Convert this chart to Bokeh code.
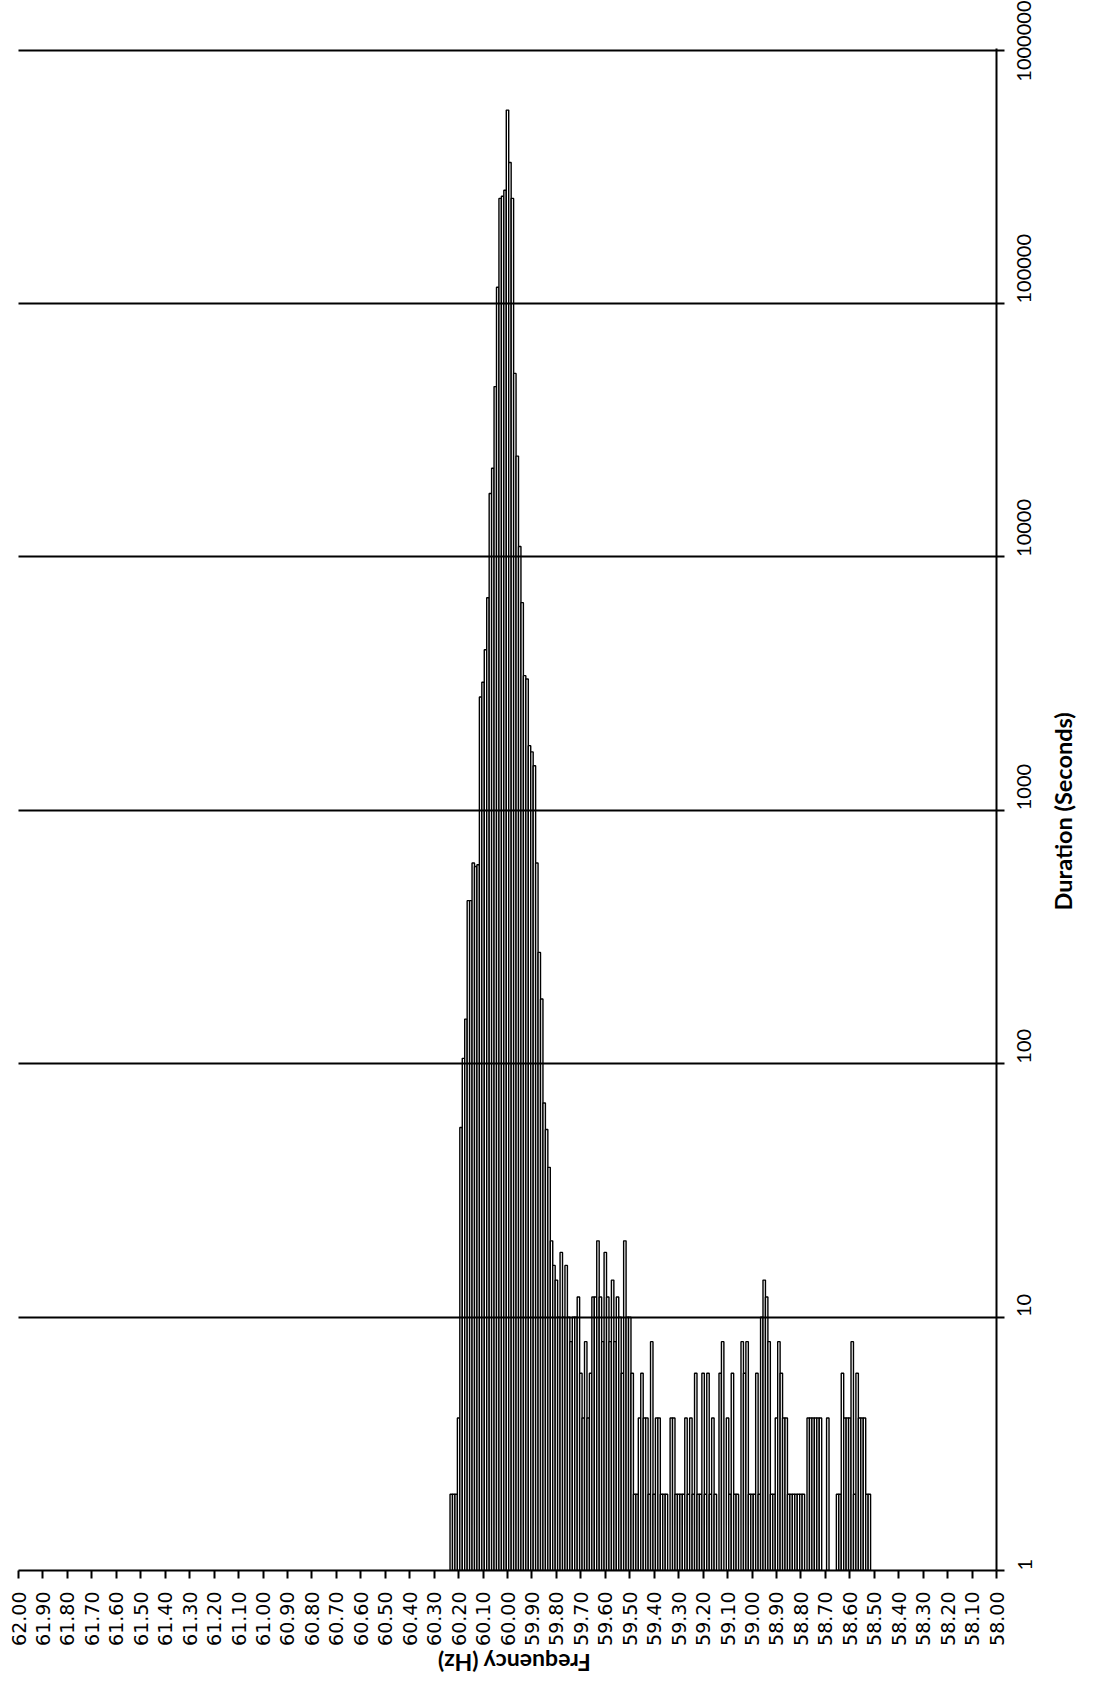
import math
from bokeh.plotting import figure
from bokeh.layouts import row, column
from bokeh.models import (Range1d, FixedTicker, CustomJSTickFormatter,
                          ColumnDataSource, PrintfTickFormatter)
from bokeh.core.properties import value
from bokeh.embed import file_html
from bokeh.resources import INLINE

# ---- data: duration (seconds) spent in each 0.01 Hz frequency bin ----
body_freq_hz = [
    60.23, 60.22, 60.21, 60.20, 60.19, 60.18, 60.17, 60.16, 60.15, 60.14,
    60.13, 60.12, 60.11, 60.10, 60.09, 60.08, 60.07, 60.06, 60.05, 60.04,
    60.03, 60.02, 60.01, 60.00, 59.99, 59.98, 59.97, 59.96, 59.95, 59.94,
    59.93, 59.92, 59.91, 59.90, 59.89, 59.88, 59.87, 59.86, 59.85, 59.84,
    59.83, 59.82, 59.81,
]
body_duration_s = [
    2, 2, 2, 4, 56, 105, 150, 440, 440, 620,
    600, 610, 2800, 3200, 4300, 6900, 17800, 22400, 47000, 116000,
    260000, 265000, 280000, 580000, 360000, 260000, 53000, 25000, 11000, 6600,
    3400, 3300, 1800, 1700, 1500, 620, 275, 180, 70, 55,
    39, 20, 16,
]
tail_freq_hz = [
    59.80, 59.79, 59.78, 59.77, 59.76, 59.75, 59.74, 59.73, 59.72, 59.71,
    59.70, 59.69, 59.68, 59.67, 59.66, 59.65, 59.64, 59.63, 59.62, 59.61,
    59.60, 59.59, 59.58, 59.57, 59.56, 59.55, 59.54, 59.53, 59.52, 59.51,
    59.50, 59.49, 59.48, 59.47, 59.46, 59.45, 59.44, 59.43, 59.42, 59.41,
    59.40, 59.39, 59.38, 59.37, 59.36, 59.35, 59.34, 59.33, 59.32, 59.31,
    59.30, 59.29, 59.28, 59.27, 59.26, 59.25, 59.24, 59.23, 59.22, 59.21,
    59.20, 59.19, 59.18, 59.17, 59.16, 59.15, 59.14, 59.13, 59.12, 59.11,
    59.10, 59.09, 59.08, 59.07, 59.06, 59.05, 59.04, 59.03, 59.02, 59.01,
    59.00, 58.99, 58.98, 58.97, 58.96, 58.95, 58.94, 58.93, 58.92, 58.91,
    58.90, 58.89, 58.88, 58.87, 58.86, 58.85, 58.84, 58.83, 58.82, 58.81,
    58.80, 58.79, 58.78, 58.77, 58.76, 58.75, 58.74, 58.73, 58.72, 58.71,
    58.70, 58.69, 58.68, 58.67, 58.66, 58.65, 58.64, 58.63, 58.62, 58.61,
    58.60, 58.59, 58.58, 58.57, 58.56, 58.55, 58.54, 58.53, 58.52,
]
tail_duration_s = [
    14, 10, 18, 10, 16, 10, 8, 10, 10, 12,
    6, 4, 8, 4, 6, 12, 12, 20, 12, 8,
    18, 12, 8, 14, 8, 12, 10, 6, 20, 10,
    10, 6, 2, 2, 4, 6, 4, 4, 2, 8,
    2, 4, 4, 2, 2, 2, 0, 4, 4, 2,
    2, 2, 2, 4, 2, 4, 2, 6, 2, 2,
    6, 2, 6, 2, 4, 2, 0, 6, 8, 0,
    4, 2, 6, 2, 2, 0, 8, 6, 8, 2,
    2, 2, 6, 2, 10, 14, 12, 8, 2, 2,
    4, 8, 6, 4, 4, 2, 2, 2, 2, 2,
    2, 2, 0, 4, 4, 4, 4, 4, 4, 0,
    0, 4, 0, 0, 0, 2, 2, 6, 4, 4,
    4, 8, 2, 6, 4, 4, 4, 2, 2,
]
freq_ticks = [round(62.0 - 0.1 * i, 2) for i in range(41)]
duration_ticks = [1, 10, 100, 1000, 10000, 100000, 1000000]
x_title = "Frequency (Hz)"
y_title = "Duration (Seconds)"
bin_width_hz = 0.01

# ---- layout (pixels) ----
MAIN_W, MAIN_H = 1048, 1648
BL, BR, BT, BB = 18, 52, 48, 76          # main figure borders
TITLE_H = 1676 - MAIN_H                  # strip below for the x title
TITLE_W = 1077 - MAIN_W                  # strip right for the y title
Y_MAX = 1015000

freqs = body_freq_hz + tail_freq_hz
durs = body_duration_s + tail_duration_s
keep = [(f, d) for f, d in zip(freqs, durs) if d > 0]
src = ColumnDataSource(dict(freq=[f for f, _ in keep], dur=[d for _, d in keep]))

p = figure(width=MAIN_W, height=MAIN_H,
           x_range=Range1d(62.0, 58.0), y_range=Range1d(1, Y_MAX),
           y_axis_type="log", y_axis_location="right",
           output_backend="svg", toolbar_location=None,
           min_border_left=BL, min_border_right=BR,
           min_border_top=BT, min_border_bottom=BB)
p.outline_line_color = None
p.background_fill_color = "white"
p.border_fill_color = "white"

p.vbar(x="freq", width=bin_width_hz, bottom=1, top="dur", source=src,
       fill_color="white", line_color="black", line_width=1.4)

# x axis (frequency)
xa = p.xaxis[0]
xa.ticker = FixedTicker(ticks=freq_ticks, minor_ticks=[])
xa.formatter = PrintfTickFormatter(format="%.2f")
xa.major_label_orientation = math.pi / 2
xa.major_label_text_font = "DejaVu Sans"
xa.major_label_text_font_size = "19px"
xa.major_label_text_color = "black"
xa.major_label_standoff = 13
xa.major_tick_out = 8
xa.major_tick_in = 0
xa.major_tick_line_width = 2
xa.major_tick_line_color = "black"
xa.minor_tick_line_color = None
xa.axis_line_width = 2
xa.axis_line_color = "black"

# y axis (duration, log)
ya = p.yaxis[0]
yt = FixedTicker(ticks=duration_ticks, minor_ticks=[])
ya.ticker = yt
ya.formatter = CustomJSTickFormatter(code="return Math.round(tick).toString();")
ya.major_label_orientation = math.pi / 2
ya.major_label_text_font = "Lato"
ya.major_label_text_font_size = "20px"
ya.major_label_text_color = "black"
ya.major_label_standoff = 20
ya.major_tick_out = 8
ya.major_tick_in = 0
ya.major_tick_line_width = 2
ya.major_tick_line_color = "black"
ya.minor_tick_line_color = None
ya.axis_line_width = 2
ya.axis_line_color = "black"

p.xgrid.visible = False
p.ygrid.ticker = yt
p.ygrid.grid_line_color = "black"
p.ygrid.grid_line_width = 2
p.ygrid.level = "overlay"


def strip(w, h):
    f = figure(width=w, height=h, x_range=Range1d(0, w), y_range=Range1d(h, 0),
               x_axis_location=None, y_axis_location=None,
               output_backend="svg", toolbar_location=None, min_border=0)
    f.outline_line_color = None
    f.xgrid.visible = False
    f.ygrid.visible = False
    f.background_fill_color = "white"
    f.border_fill_color = "white"
    return f


# x title: upside down, centred under the plot frame
frame_right = MAIN_W - BR
bottom_strip = strip(MAIN_W, TITLE_H)
bottom_strip.text(x=[(BL + frame_right) / 2 + 24], y=[TITLE_H / 2], text=[x_title],
                  angle=math.pi, text_align="center", text_baseline="middle",
                  text_font=value("Lato"), text_font_style="bold",
                  text_font_size="23px", text_color="black")

# y title: reading bottom-to-top, centred on the 1000 s level
frame_bottom = MAIN_H - BB
frac = math.log10(1000) / math.log10(Y_MAX)
y_mid = frame_bottom - (frame_bottom - BT) * frac
right_strip = strip(TITLE_W, MAIN_H + TITLE_H)
right_strip.text(x=[TITLE_W / 2], y=[y_mid], text=[y_title],
                 angle=math.pi / 2, text_align="center", text_baseline="middle",
                 text_font=value("Lato"), text_font_style="bold",
                 text_font_size="23.5px", text_color="black")

layout = row(column(p, bottom_strip), right_strip)
open("out.html", "w").write(file_html(layout, INLINE))
